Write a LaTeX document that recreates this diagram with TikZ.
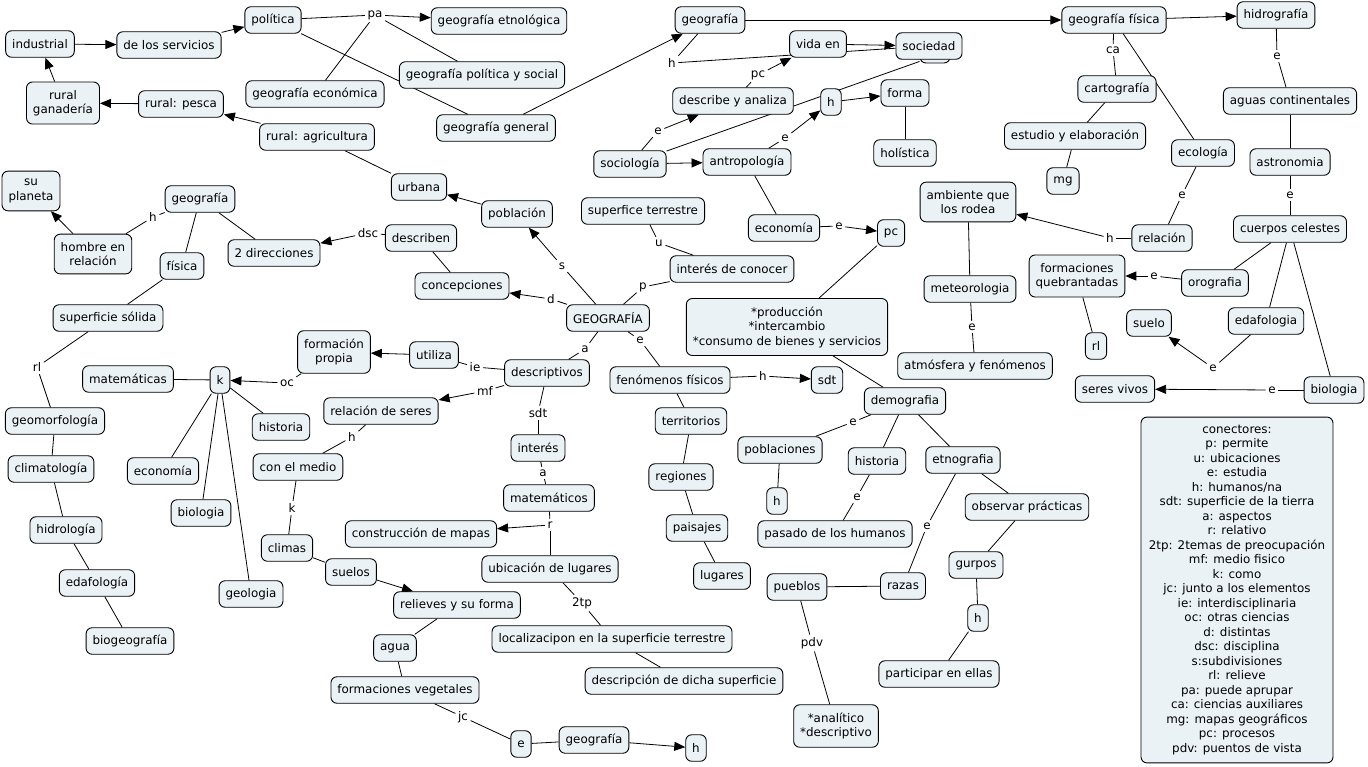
\documentclass[tikz,border=0pt]{standalone}
\usepackage{fontspec}
\setmainfont{DejaVu Sans}
\usepackage{tikz}
\usetikzlibrary{arrows.meta}
\usetikzlibrary{backgrounds}
\definecolor{cmapfill}{RGB}{235,242,245}
\tikzset{
concept/.style={draw, rounded corners=6pt, fill=cmapfill, line width=0.9pt,
  inner xsep=6.5pt, inner ysep=3pt, minimum height=26.5pt, align=center,
  font=\fontsize{11.9}{14.5}\selectfont},
multi/.style={inner ysep=8pt},
linkword/.style={inner sep=2.5pt, font=\fontsize{11.9}{14.5}\selectfont},
conn/.style={line width=0.8pt},
arr/.style={conn, -{Triangle[length=11pt,width=9pt]}}
}

\begin{document}
\begin{tikzpicture}[x=1pt,y=-1pt]

                \useasboundingbox (0,0) rectangle (1368,766);

                %top left
                \node[concept] (ind) at (40,44) {industrial};
                \node[concept] (serv) at (169,45) {de los servicios};
                \node[concept] (pol) at (273,20) {política};
                \node[concept, multi] (ganad) at (63,103) {rural\\ganadería};
                \node[concept] (pesca) at (181,104) {rural: pesca};
                \node[concept] (agric) at (317,137) {rural: agricultura};
                \node[concept] (geoeco) at (315,94) {geografía económica};
                \node[concept] (geoetn) at (499,21) {geografía etnológica};
                \node[concept] (geopol) at (482,75) {geografía política y social};
                \node[concept] (geogen) at (496,128) {geografía general};
                \node[concept] (urbana) at (419,187) {urbana};
                \node[concept] (pobl) at (517,214) {población};

                %top middle
                \node[concept] (geotop) at (710,20) {geografía};
                \node[concept] (vida) at (818,44) {vida en};
                \node[concept, minimum width=30pt, minimum height=14pt, inner sep=0pt] (socx) at (935,56) {};
                \node[concept] (soc) at (929,46) {sociedad};
                \node[concept] (descr) at (733,101) {describe y analiza};
                \node[concept] (hbox) at (831,102) {h};
                \node[concept] (forma) at (905,93) {forma};
                \node[concept] (holis) at (905,153) {holística};
                \node[concept] (socio) at (630,164) {sociología};
                \node[concept] (antro) at (747,162) {antropología};
                \node[concept] (econ) at (784,228) {economía};
                \node[concept] (pc) at (891,233) {pc};
                \node[concept, multi] (amb) at (968,202) {ambiente que\\los rodea};

                %top right
                \node[concept] (geofis) at (1114,20) {geografía física};
                \node[concept] (hidro) at (1276,15) {hidrografía};
                \node[concept] (carto) at (1117,89) {cartografía};
                \node[concept] (estud) at (1075,136) {estudio y elaboración};
                \node[concept] (mg) at (1063,181) {mg};
                \node[concept] (ecol) at (1203,153) {ecología};
                \node[concept] (rel) at (1162,238) {relación};
                \node[concept] (aguas) at (1290,101) {aguas continentales};
                \node[concept] (astro) at (1290,162) {astronomia};
                \node[concept] (cuerp) at (1290,229) {cuerpos celestes};
                \node[concept, multi] (formq) at (1077,276) {formaciones\\quebrantadas};
                \node[concept] (orog) at (1215,283) {orografia};
                \node[concept] (edafr) at (1266,321) {edafologia};
                \node[concept] (rlbox) at (1096,346) {rl};
                \node[concept] (suelo) at (1149,323) {suelo};
                \node[concept] (seres) at (1115,389) {seres vivos};
                \node[concept] (biolr) at (1334,390) {biologia};

                %left
                \node[concept, multi] (planeta) at (31,191) {su\\planeta};
                \node[concept] (geoleft) at (200,199) {geografía};
                \node[concept, multi] (hombre) at (93,254) {hombre en\\relación};
                \node[concept] (dir) at (274,253) {2 direcciones};
                \node[concept] (fisica) at (182,266) {física};
                \node[concept] (describen) at (421,238) {describen};
                \node[concept] (concep) at (462,286) {concepciones};
                \node[concept] (supsol) at (108,318) {superficie sólida};
                \node[concept] (geomor) at (55,421) {geomorfología};
                \node[concept] (clima) at (51,469) {climatología};
                \node[concept] (hidrol) at (66,530) {hidrología};
                \node[concept] (edafl) at (97,583) {edafología};
                \node[concept] (biogeo) at (130,641) {biogeografía};
                \node[concept] (matem) at (128,379) {matemáticas};
                \node[concept] (kbox) at (220,380) {k};
                \node[concept, multi] (formp) at (334,352) {formación\\propia};
                \node[concept] (histl) at (281,427) {historia};
                \node[concept] (econl) at (163,471) {economía};
                \node[concept] (biol) at (201,513) {biologia};
                \node[concept] (geolo) at (251,594) {geologia};
                \node[concept] (relser) at (381,411) {relación de seres};
                \node[concept] (medio) at (298,467) {con el medio};
                \node[concept] (climas) at (287,548) {climas};
                \node[concept] (suelos) at (351,572) {suelos};
                \node[concept] (relieve) at (457,605) {relieves y su forma};
                \node[concept] (agua) at (395,648) {agua};
                \node[concept] (formv) at (405,690) {formaciones vegetales};
                \node[concept] (ebox) at (521,744) {e};
                \node[concept] (geobot) at (594,740) {geografía};
                \node[concept] (hbot) at (696,748) {h};

                %middle
                \node[concept] (GEO) at (608,318) {GEOGRAFÍA};
                \node[concept] (interes) at (732,269) {interés de conocer};
                \node[concept] (supter) at (643,211) {superfice terrestre};
                \node[concept] (fenom) at (670,380) {fenómenos físicos};
                \node[concept] (sdtbox) at (827,380) {sdt};
                \node[concept] (territ) at (691,421) {territorios};
                \node[concept] (region) at (681,477) {regiones};
                \node[concept] (paisaj) at (697,528) {paisajes};
                \node[concept] (lugar) at (722,576) {lugares};
                \node[concept] (descrip) at (547,373) {descriptivos};
                \node[concept] (utiliza) at (434,355) {utiliza};
                \node[concept] (inter) at (538,448) {interés};
                \node[concept] (matm) at (549,498) {matemáticos};
                \node[concept] (constr) at (421,534) {construcción de mapas};
                \node[concept] (ubic) at (550,569) {ubicación de lugares};
                \node[concept] (local) at (612,639) {localizacipon en la superficie terrestre};
                \node[concept] (descd) at (684,681) {descripción de dicha superficie};
                \node[concept, multi] (prod) at (787,327) {*producción\\*intercambio\\*consumo de bienes y servicios};
                \node[concept] (demo) at (905,401) {demografia};
                \node[concept] (poblac) at (780,450) {poblaciones};
                \node[concept] (hpob) at (777,501) {h};
                \node[concept] (histm) at (877,461) {historia};
                \node[concept] (pasado) at (835,534) {pasado de los humanos};
                \node[concept] (etno) at (963,460) {etnografia};
                \node[concept] (observ) at (1027,507) {observar prácticas};
                \node[concept] (razas) at (903,586) {razas};
                \node[concept] (pueblos) at (797,587) {pueblos};
                \node[concept, multi] (analit) at (836,726) {*analítico\\*descriptivo};
                \node[concept] (gurpos) at (976,565) {gurpos};
                \node[concept] (hgur) at (978,618) {h};
                \node[concept] (partic) at (939,674) {participar en ellas};
                \node[concept] (meteo) at (970,289) {meteorologia};
                \node[concept] (atmos) at (975,366) {atmósfera y fenómenos};

                \node[concept, multi, minimum width=192pt] (conect) at (1237,590) {conectores:\\p: permite\\u: ubicaciones\\e: estudia\\h: humanos/na\\sdt: superficie de la tierra\\a: aspectos\\r: relativo\\2tp: 2temas de preocupación\\mf: medio fisico\\k: como\\jc: junto a los elementos\\ie: interdisciplinaria\\oc: otras ciencias\\d: distintas\\dsc: disciplina\\s:subdivisiones\\rl: relieve\\pa: puede aprupar\\ca: ciencias auxiliares\\mg: mapas geográficos\\pc: procesos\\pdv: puentos de vista};

                %linking words
                \node[linkword] (lpa) at (375,15) {pa};
                \node[linkword] (lhl) at (153,217) {h};
                \node[linkword] (ldsc) at (368,233) {dsc};
                \node[linkword] (lhtop) at (672,63) {h};
                \node[linkword] (lpc) at (758,75) {pc};
                \node[linkword] (lesoc) at (658,131) {e};
                \node[linkword] (leant) at (785,138) {e};
                \node[linkword] (leeco) at (839,226) {e};
                \node[linkword] (lca) at (1113,50) {ca};
                \node[linkword] (leecol) at (1182,195) {e};
                \node[linkword] (lhrel) at (1110,238) {h};
                \node[linkword] (lehid) at (1277,56) {e};
                \node[linkword] (least) at (1290,195) {e};
                \node[linkword] (leoro) at (1154,276) {e};
                \node[linkword] (leeda) at (1213,368) {e};
                \node[linkword] (lebio) at (1272,390) {e};
                \node[linkword] (lrl) at (37,367) {rl};
                \node[linkword] (loc) at (287,383) {oc};
                \node[linkword] (lhmed) at (352,437) {h};
                \node[linkword] (lkmed) at (292,508) {k};
                \node[linkword] (ljc) at (463,717) {jc};
                \node[linkword] (ls) at (562,266) {s};
                \node[linkword] (ld) at (551,299) {d};
                \node[linkword] (lp) at (643,287) {p};
                \node[linkword] (lu) at (659,243) {u};
                \node[linkword] (leGEO) at (640,340) {e};
                \node[linkword] (lhfen) at (763,376) {h};
                \node[linkword] (la) at (585,349) {a};
                \node[linkword] (lie) at (475,367) {ie};
                \node[linkword] (lmf) at (485,391) {mf};
                \node[linkword] (lsdt) at (538,413) {sdt};
                \node[linkword] (la2) at (543,473) {a};
                \node[linkword] (lr) at (550,525) {r};
                \node[linkword] (l2tp) at (582,603) {2tp};
                \node[linkword] (ledemo) at (853,422) {e};
                \node[linkword] (lehist) at (857,497) {e};
                \node[linkword] (leetno) at (927,526) {e};
                \node[linkword] (lpdv) at (812,643) {pdv};
                \node[linkword] (lemet) at (972,327) {e};

                \begin{scope}[on background layer]
                %plain lines
                \foreach \a/\b in {agric/urbana, pol/lpa, geoeco/lpa, lpa/geopol, pol/geogen,
                    geotop/lhtop, lhtop/soc, descr/lpc, socio/lesoc, socio/socx, antro/leant,
                    forma/holis, antro/econ, econ/leeco, pc/prod, geofis/lca, lca/carto,
                    carto/estud, estud/mg, geofis/ecol, ecol/leecol, leecol/rel, rel/lhrel,
                    amb/meteo, meteo/lemet, lemet/atmos, hidro/lehid, lehid/aguas, aguas/astro,
                    astro/least, least/cuerp, cuerp/orog, cuerp/edafr, cuerp/biolr, orog/leoro,
                    formq/rlbox, edafr/leeda, biolr/lebio,
                    geoleft/lhl, lhl/hombre, geoleft/dir, geoleft/fisica, describen/ldsc,
                    describen/concep, fisica/supsol, supsol/lrl, lrl/geomor, geomor/clima,
                    clima/hidrol, hidrol/edafl, edafl/biogeo, matem/kbox, formp/loc,
                    kbox/histl, kbox/econl, kbox/biol, kbox/geolo, relser/lhmed, lhmed/medio,
                    medio/lkmed, lkmed/climas, climas/suelos, relieve/agua, agua/formv,
                    formv/ljc, ljc/ebox, ebox/geobot,
                    GEO/ls, GEO/ld, GEO/lp, lp/interes, supter/lu, lu/interes, GEO/leGEO,
                    leGEO/fenom, fenom/lhfen, fenom/territ, territ/region, region/paisaj,
                    paisaj/lugar, GEO/la, la/descrip, descrip/lie, lie/utiliza, descrip/lmf,
                    descrip/lsdt, lsdt/inter, inter/la2, la2/matm, matm/lr, lr/ubic,
                    ubic/l2tp, l2tp/local, local/descd, prod/demo, demo/ledemo, ledemo/poblac,
                    poblac/hpob, demo/histm, histm/lehist, lehist/pasado, demo/etno,
                    etno/observ, etno/leetno, leetno/razas, pueblos/razas, pueblos/lpdv,
                    lpdv/analit, observ/gurpos, gurpos/hgur, hgur/partic}
                    \draw[conn] (\a) -- (\b);

                %arrows
                \foreach \a/\b in {ind/serv, serv/pol, ganad/ind, pesca/ganad, agric/pesca,
                    pobl/urbana, lpa/geoetn, geogen/geotop, geotop/geofis, geofis/hidro,
                    lpc/vida, vida/soc, lesoc/descr, socio/antro, leant/hbox, hbox/forma,
                    leeco/pc, lhrel/amb, leoro/formq, leeda/suelo, lebio/seres,
                    hombre/planeta, ldsc/dir, loc/kbox, suelos/relieve, geobot/hbot,
                    ls/pobl, ld/concep, lhfen/sdtbox, utiliza/formp, lmf/relser, lr/constr}
                    \draw[arr] (\a) -- (\b);
                \end{scope}

\end{tikzpicture}
\end{document}
